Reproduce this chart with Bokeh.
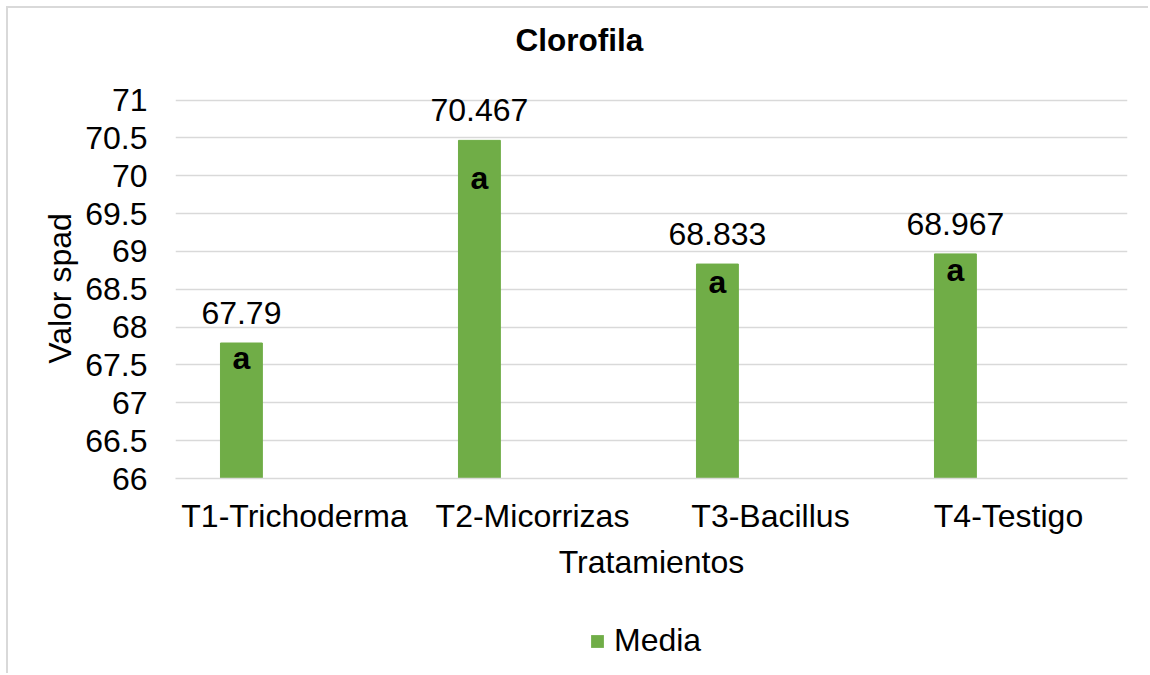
from bokeh.plotting import figure
from bokeh.layouts import column
from bokeh.models import (ColumnDataSource, FactorRange, Range1d, FixedTicker,
                          NumeralTickFormatter, Legend, LegendItem, Label)
from bokeh.transform import dodge
from bokeh.core.properties import value
from bokeh.embed import file_html
from bokeh.resources import INLINE

# ---- data ----
categories = ["T1-Trichoderma", "T2-Micorrizas", "T3-Bacillus", "T4-Testigo"]
media = [67.79, 70.467, 68.833, 68.967]
letters = ["a", "a", "a", "a"]
y_ticks = [66, 66.5, 67, 67.5, 68, 68.5, 69, 69.5, 70, 70.5, 71]
series_name = "Media"
chart_title = "Clorofila"

# ---- styling ----
FONT = "Liberation Sans"
FS = "32px"
GREEN = "#70AD47"
GRID = "#d9d9d9"
letter_offsets = [15, 38, 18, 16]   # pixel drop of the significance letters below bar tops

src = ColumnDataSource(dict(
    cat=categories,
    val=media,
    lab=[str(v) for v in media],
    let=letters,
    loff=letter_offsets,
))

W = 1140
H0 = 70
H1 = 524
H2 = 71

def strip(height, x_range):
    f = figure(x_range=x_range, y_range=Range1d(0, 1), width=W, height=height,
               output_backend="svg", toolbar_location=None,
               x_axis_location=None, y_axis_location=None, title=None,
               min_border_left=0, min_border_right=0, min_border_top=0, min_border_bottom=0)
    f.outline_line_color = None
    f.grid.visible = False
    return f

# ---- main chart ----
p = figure(x_range=FactorRange(factors=categories, range_padding=0),
           y_range=Range1d(66, 71.02), title=None,
           width=W, height=H1, output_backend="svg", toolbar_location=None,
           min_border_left=167, min_border_top=20, min_border_right=21, min_border_bottom=124)
p.outline_line_color = None
p.background_fill_color = "white"

xd = dodge("cat", -0.223, range=p.x_range)
bars = p.vbar(x=xd, top="val", bottom=66, width=0.176, source=src,
              fill_color=GREEN, line_color=GREEN)

p.text(x=xd, y="val", text="lab", source=src, text_align="center",
       text_baseline="alphabetic", y_offset=-30, text_font=value(FONT),
       text_font_size=FS, text_color="black")
p.text(x=xd, y="val", text="let", source=src, text_align="center",
       text_baseline="alphabetic", y_offset="loff", text_font=value(FONT),
       text_font_size=FS, text_font_style="bold", text_color="black")

p.yaxis.ticker = FixedTicker(ticks=y_ticks)
p.yaxis.formatter = NumeralTickFormatter(format="0.[0]")
p.ygrid.ticker = FixedTicker(ticks=y_ticks)
p.ygrid.grid_line_color = GRID
p.ygrid.grid_line_width = 1.3
p.xgrid.grid_line_color = None

for ax in (p.xaxis[0], p.yaxis[0]):
    ax.major_label_text_font = FONT
    ax.major_label_text_font_size = FS
    ax.major_label_text_color = "black"
    ax.axis_label_text_font = FONT
    ax.axis_label_text_font_size = FS
    ax.axis_label_text_font_style = "normal"
    ax.axis_label_text_color = "black"
    ax.major_tick_line_color = None
    ax.minor_tick_line_color = None
    ax.axis_line_color = None

p.xaxis.axis_line_color = GRID
p.xaxis.axis_line_width = 1.3
p.xaxis.axis_label = "Tratamientos"
p.yaxis.axis_label = "Valor spad"
p.xaxis.major_label_standoff = 13
p.yaxis.major_label_standoff = 22
p.xaxis.axis_label_standoff = 7
p.yaxis.axis_label_standoff = 4

# ---- title strip above the chart (frames are aligned by the column layout) ----
p0 = strip(H0, p.x_range)
p0.add_layout(Label(x=340, y=39, x_units="screen", y_units="screen", text=chart_title,
                    text_font=FONT, text_font_size="31.5px", text_font_style="bold",
                    text_color="black", text_align="left", text_baseline="alphabetic"))

# ---- legend strip below the chart ----
p2 = strip(H2, p.x_range)
swatch = p2.vbar(x=xd, top="val", bottom="val", width=0, source=src,
                 fill_color=GREEN, line_color=None)   # zero-size copy, only feeds the legend swatch
legend = Legend(items=[LegendItem(label=series_name, renderers=[swatch])],
                location=(414, 14), orientation="horizontal",
                padding=0, margin=0, border_line_color=None, background_fill_alpha=0,
                glyph_width=16, glyph_height=16, label_standoff=9,
                label_text_font=FONT, label_text_font_size=FS, label_text_color="black")
p2.add_layout(legend, "center")

layout = column(p0, p, p2, spacing=0,
                styles={"margin-left": "6px", "margin-top": "6px",
                        "border-left": "2px solid #d9d9d9", "border-top": "2px solid #d9d9d9"})

open("out.html", "w").write(file_html(layout, INLINE))
